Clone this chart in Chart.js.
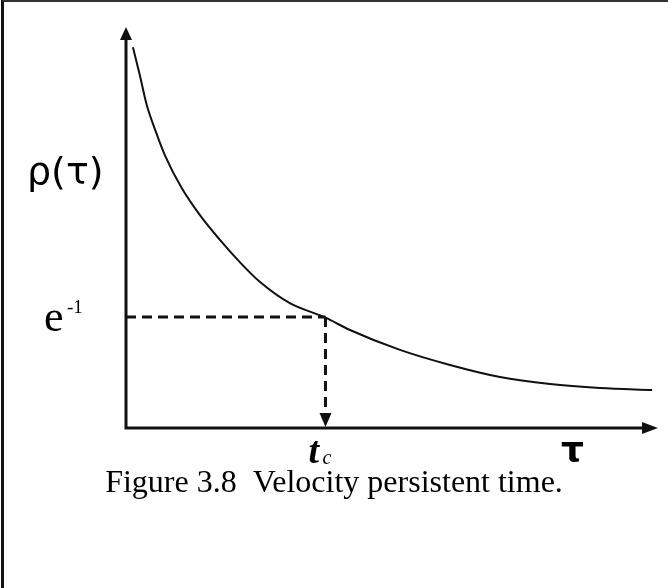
<!DOCTYPE html>
<html lang="en">
<head>
<meta charset="UTF-8">
<title>Velocity persistent time</title>
<script src="https://cdn.jsdelivr.net/npm/chart.js"></script>
<style>
    body {
        margin: 0;
        background: #ffffff;
    }
    #wrap {
        position: relative;
        width: 668px;
        height: 588px;
    }
    #frame {
        position: absolute;
        left: 1px;
        top: 0;
        width: 667px;
        height: 588px;
        border-left: 3px solid #111;
        border-top: 2px solid #333;
        box-sizing: border-box;
        pointer-events: none;
    }
    canvas {
        position: absolute;
        left: 0;
        top: 0;
    }
</style>
</head>
<body>
<div id="wrap">
    <canvas id="fig" width="668" height="588"></canvas>
    <div id="frame"></div>
</div>
<script>
    // decay curve rho(tau)
    var tau = [0.13, 0.26, 0.39, 0.55, 0.73, 1.05, 1.39, 1.77, 2.14, 2.52, 3.08, 3.75, 4.21, 5.15, 6.09, 7.03, 7.97, 8.91, 9.89];
    var rho = [1.263, 1.170, 1.071, 0.988, 0.905, 0.795, 0.706, 0.623, 0.550, 0.484, 0.414, 0.366, 0.325, 0.259, 0.209, 0.169, 0.146, 0.133, 0.126];

    var TC = 3.75;      // correlation time t_c
    var E_INV = 0.368;  // e^-1 level
    var X_MAX = 10;
    var Y_MAX = 1.33;

    var caption = 'Figure 3.8  Velocity persistent time.';

    function arrowHead(ctx, x, y, dir, len, half) {
        // dir: 'up', 'right', 'down'
        ctx.beginPath();
        if (dir === 'up') {
            ctx.moveTo(x, y);
            ctx.lineTo(x - half, y + len);
            ctx.lineTo(x + half, y + len);
        } else if (dir === 'right') {
            ctx.moveTo(x, y);
            ctx.lineTo(x - len, y - half);
            ctx.lineTo(x - len, y + half);
        } else {
            ctx.moveTo(x, y);
            ctx.lineTo(x - half, y - len);
            ctx.lineTo(x + half, y - len);
        }
        ctx.closePath();
        ctx.fill();
    }

    var axesPlugin = {
        id: 'axesPlugin',
        beforeDatasetsDraw: function (chart) {
            var ctx = chart.ctx;
            var xs = chart.scales.x, ys = chart.scales.y;
            var x0 = xs.getPixelForValue(0), y0 = ys.getPixelForValue(0);
            var xEnd = xs.getPixelForValue(X_MAX), yEnd = ys.getPixelForValue(Y_MAX);
            ctx.save();
            ctx.strokeStyle = '#111';
            ctx.fillStyle = '#111';
            ctx.lineWidth = 3;
            ctx.beginPath();
            ctx.moveTo(x0, y0 + 1.5);
            ctx.lineTo(x0, yEnd + 10);
            ctx.moveTo(x0 - 1.5, y0);
            ctx.lineTo(xEnd - 12, y0);
            ctx.stroke();
            arrowHead(ctx, x0, yEnd, 'up', 13, 6);
            arrowHead(ctx, xEnd, y0, 'right', 16, 6);
            ctx.restore();
        },
        afterDatasetsDraw: function (chart) {
            var ctx = chart.ctx;
            var xs = chart.scales.x, ys = chart.scales.y;
            var xTc = xs.getPixelForValue(TC), y0 = ys.getPixelForValue(0);
            var yE = ys.getPixelForValue(E_INV);
            ctx.save();
            ctx.fillStyle = '#111';
            arrowHead(ctx, xTc, y0 - 1, 'down', 14, 6);

            ctx.fillStyle = '#000';
            ctx.textBaseline = 'alphabetic';

            // rho(tau) label
            ctx.font = '38px "DejaVu Sans"';
            ctx.textAlign = 'left';
            ctx.fillText('\u03C1(\u03C4)', 27, 184);

            // e^-1 label
            ctx.font = '44px "Liberation Serif"';
            ctx.fillText('e', 44, yE + 14);
            ctx.font = '19px "Liberation Serif"';
            ctx.fillText('-1', 67, yE - 4);

            // t_c label
            ctx.font = 'italic bold 38px "Liberation Serif"';
            ctx.fillText('t', xTc - 17, y0 + 35);
            ctx.font = 'italic 20px "Liberation Serif"';
            ctx.fillText('c', xTc - 3, y0 + 36);

            // tau axis label
            ctx.font = 'bold 36px "DejaVu Sans"';
            ctx.fillText('\u03C4', 561, y0 + 34);

            // caption
            ctx.font = '32px "Liberation Serif"';
            ctx.textAlign = 'center';
            ctx.fillText(caption, 334, y0 + 64);
            ctx.restore();
        }
    };

    var curve = tau.map(function (t, i) { return { x: t, y: rho[i] }; });

    new Chart(document.getElementById('fig').getContext('2d'), {
        type: 'scatter',
        data: {
            datasets: [{
                data: curve,
                showLine: true,
                borderColor: '#111',
                borderWidth: 2,
                pointRadius: 0,
                cubicInterpolationMode: 'monotone'
            }, {
                data: [{ x: 0, y: E_INV }, { x: TC, y: E_INV }],
                showLine: true,
                borderColor: '#111',
                borderWidth: 3,
                borderDash: [10, 6],
                pointRadius: 0
            }, {
                data: [{ x: TC, y: E_INV }, { x: TC, y: 0 }],
                showLine: true,
                borderColor: '#111',
                borderWidth: 3,
                borderDash: [10, 6],
                pointRadius: 0
            }]
        },
        options: {
            responsive: false,
            animation: false,
            devicePixelRatio: 1,
            layout: { padding: { left: 126, top: 27, right: 10, bottom: 160 } },
            plugins: { legend: { display: false }, tooltip: { enabled: false } },
            scales: {
                x: { type: 'linear', min: 0, max: X_MAX, display: false },
                y: { type: 'linear', min: 0, max: Y_MAX, display: false }
            }
        },
        plugins: [axesPlugin]
    });
</script>
</body>
</html>
